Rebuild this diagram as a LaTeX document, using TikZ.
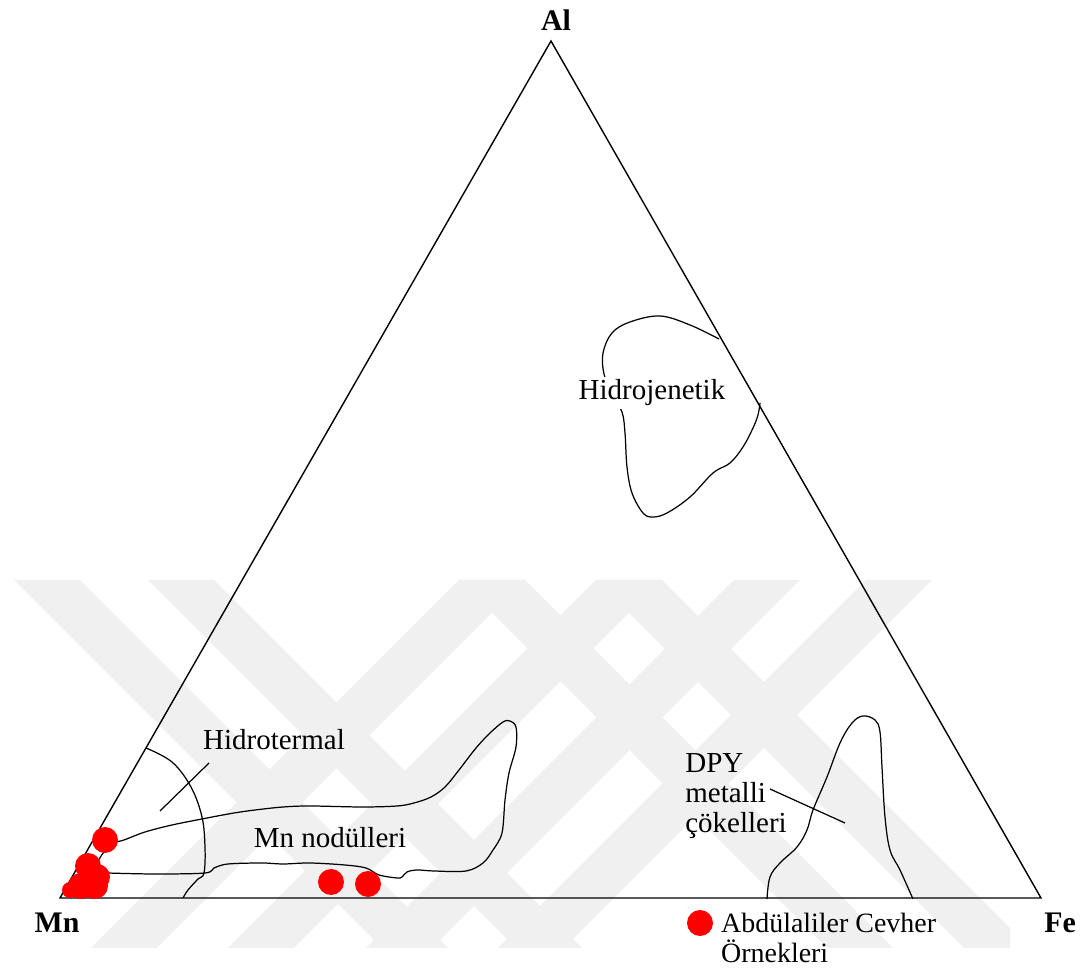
\documentclass[tikz,border=0pt]{standalone}
\usepackage{fontspec}
\setmainfont{Liberation Serif}
\usetikzlibrary{positioning}

\begin{document}
\begin{tikzpicture}[x=0.02cm, y=-0.02cm,
  side/.style={line width=0.8pt},
  field/.style={line width=0.7pt},
  sample/.style={fill=red},
  lbl/.style={font=\fontsize{16.5}{17.2}\selectfont, inner sep=0pt, align=left},
  keylbl/.style={font=\fontsize{15.9}{17.2}\selectfont, inner sep=0pt, align=left},
  vlbl/.style={font=\fontsize{17}{18}\selectfont\bfseries, inner sep=0pt},
  wmark/.style={fill=black!6}]

\useasboundingbox (0,0) rectangle (1080,972);

% watermark stripes
\begin{scope}
\clip (14,580) rectangle (1010,948);
\foreach \a in {14,148,459,596}
  \fill[wmark] (\a,580) -- ++(66,0) -- ++(368,368) -- ++(-66,0) -- cycle;
\foreach \a in {459,596,734,866}
  \fill[wmark] (\a,580) -- ++(66,0) -- ++(-368,368) -- ++(-66,0) -- cycle;
\end{scope}

% corners
\coordinate (M) at (60,898);
\coordinate (A) at (551,41);
\coordinate (F) at (1041,898);
\draw[side] (M) -- (A) -- (F) -- cycle;

\node[vlbl] (al) at (556,20) {Al};
\node[vlbl] (mn) at (57,923) {Mn};
\node[vlbl] (fe) at (1060,923) {Fe};

% hidrojenetik field
\draw[field] plot[smooth, tension=0.6] coordinates {(719,339) (690,325) (660,316)
  (630,322) (612,333) (603,353) (604,374) (612,395) (622,412) (625,433) (627,467)
  (632,493) (643,513) (653,517) (667,513) (690,497) (713,473) (730,463) (743,447)
  (753,428) (758,415) (760,403)};
\node[lbl, fill=white, inner sep=1.5pt] (hgen) at (652,393) {Hidrojenetik};

% mn nodulleri field
\draw[field] plot[smooth, tension=0.55] coordinates {(98,861) (104,852) (114,843)
  (124,840) (145,832) (172,825) (207,818) (234,813) (255,810) (283,807) (310,806)
  (362,807) (397,806) (414,803) (431,797) (445,787) (459,770) (476,748) (490,733)
  (503,722) (510,721) (516,727) (516,747) (509,773) (505,800) (502,833) (493,850)
  (483,863) (466,871) (434,871) (417,870) (407,872) (402,877) (397,878) (379,875)
  (366,868) (345,865) (310,863) (283,864) (262,863) (228,864) (214,868) (205,873)
  (155,874) (107,873)};
\node[lbl] (mnod) at (330,838) {Mn nodülleri};

% hidrotermal field
\draw[field] plot[smooth, tension=0.6] coordinates {(146,748) (172,762) (191,787)
  (202,817) (205,847) (204,873) (198,879) (188,890) (183,898)};
\node[lbl] (hterm) at (274,740) {Hidrotermal};
\coordinate (ht1) at (209,763);
\coordinate (ht2) at (160,811);
\draw[field] (ht1) -- (ht2);

% dpy field
\draw[field] plot[smooth, tension=0.6] coordinates {(767,899) (770,877) (780,863)
  (797,847) (807,830) (813,810) (827,777) (840,743) (852,723) (863,716) (875,720)
  (880,732) (882,767) (885,817) (890,850) (900,870) (913,899)};
\node[lbl, anchor=west] (dpy) at (685,796) {DPY\\metalli\\çökelleri};
\coordinate (dp1) at (770,789);
\coordinate (dp2) at (845,823);
\draw[field] (dp1) -- (dp2);

% samples
\foreach \x/\y in {88/866, 97/877, 95/886, 81/886, 105/840, 331/882, 368/884}
  \fill[sample] (\x,\y) circle (0.26cm);
\fill[sample] (70,890) circle (0.16cm);

% legend
\node[circle, sample, inner sep=0pt, minimum size=0.52cm] (key) at (700,923) {};
\node[keylbl, right=0.15cm of key, yshift=-0.3cm] (keytxt) {Abdülaliler Cevher\\Örnekleri};

\end{tikzpicture}
\end{document}
